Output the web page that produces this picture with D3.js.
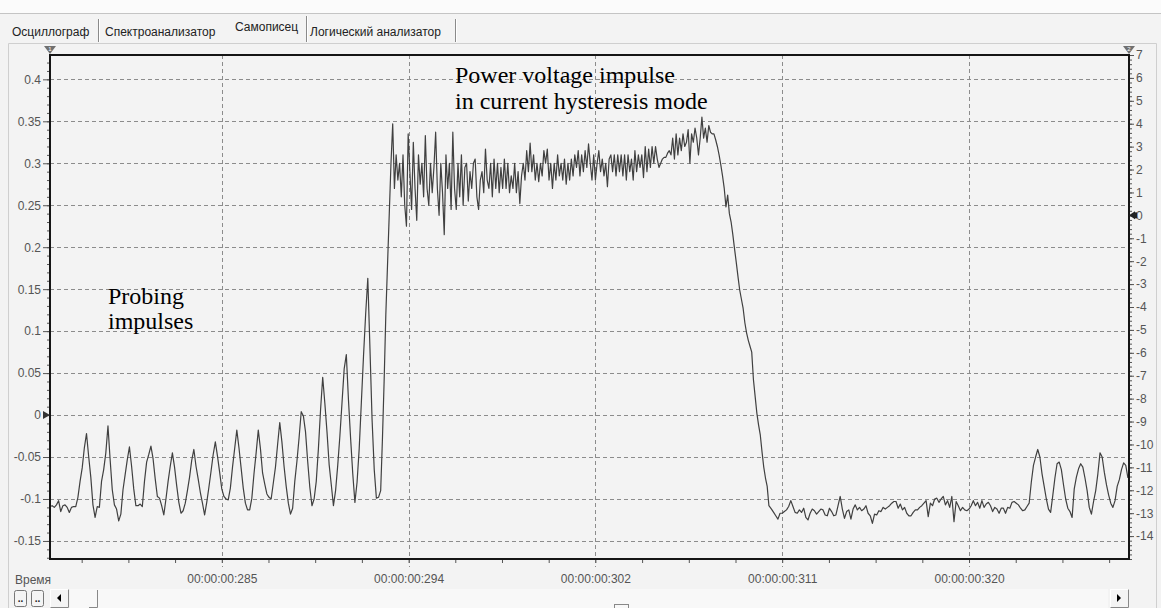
<!DOCTYPE html>
<meta charset="utf-8">
<head>
  <script src="https://cdnjs.cloudflare.com/ajax/libs/d3/7.8.5/d3.min.js"></script>
</head>
<style>
  body {
    margin: 0;
    background: #f3f3f3;
  }
  svg text {
    font-family: "Liberation Sans", Arial, sans-serif;
  }
  .tick line { stroke: #555; }
  .tick text { fill: #555; font-size: 12px; }
  .note { font-family: "Liberation Serif", "Times New Roman", serif !important; font-size: 24px; fill: #000; }
</style>
<body></body>
<script>
  var width = 1161, height = 608;
  // plot box (note: "top" is taken by window.top, so other names)
  var plotL = 50, plotR = 1129, plotT = 55, plotB = 559;

  // tabs of the recorder window
  var tabs = ["Осциллограф", "Спектроанализатор", "Самописец", "Логический анализатор"];
  var tabX = [12, 105, 235, 310];

  // axes
  var leftTicks = [-0.15, -0.1, -0.05, 0, 0.05, 0.1, 0.15, 0.2, 0.25, 0.3, 0.35, 0.4];
  var rightTicks = [-14, -13, -12, -11, -10, -9, -8, -7, -6, -5, -4, -3, -2, -1, 0, 1, 2, 3, 4, 5, 6, 7];
  var timeTicks = [285.2, 293.9, 302.6, 311.3, 320.0];
  var timeLabels = ["00:00:00:285", "00:00:00:294", "00:00:00:302", "00:00:00:311", "00:00:00:320"];

  // recorded voltage, ms / V, three sampled pieces
  var probeStart = 277.2, probeStep = 0.1;
  var probe = [
    -0.109, -0.108, -0.110, -0.107, -0.102, -0.115, -0.108, -0.107, -0.110, -0.116,
    -0.110, -0.109, -0.109, -0.098, -0.079, -0.063, -0.039, -0.022, -0.049, -0.074,
    -0.107, -0.122, -0.109, -0.110, -0.079, -0.065, -0.045, -0.013, -0.053, -0.089,
    -0.107, -0.112, -0.126, -0.118, -0.089, -0.071, -0.053, -0.038, -0.061, -0.088,
    -0.108, -0.108, -0.106, -0.109, -0.079, -0.056, -0.047, -0.037, -0.052, -0.076,
    -0.097, -0.099, -0.108, -0.119, -0.100, -0.079, -0.061, -0.045, -0.062, -0.084,
    -0.104, -0.117, -0.114, -0.105, -0.090, -0.074, -0.054, -0.041, -0.061, -0.076,
    -0.092, -0.105, -0.119, -0.104, -0.086, -0.067, -0.047, -0.032, -0.049, -0.068,
    -0.088, -0.097, -0.100, -0.101, -0.087, -0.062, -0.040, -0.018, -0.039, -0.063,
    -0.087, -0.105, -0.113, -0.113, -0.099, -0.070, -0.045, -0.018, -0.040, -0.069,
    -0.082, -0.094, -0.098, -0.100, -0.081, -0.062, -0.035, -0.009, -0.032, -0.061,
    -0.085, -0.105, -0.118, -0.111, -0.079, -0.055, -0.027, 0.004, -0.001, -0.020,
    -0.055, -0.086, -0.108, -0.100, -0.079, -0.040, 0.006, 0.045, 0.014, -0.020,
    -0.059, -0.083, -0.108, -0.090, -0.060, -0.025, 0.015, 0.055, 0.072, 0.018,
    -0.028, -0.070, -0.104, -0.080, -0.040, 0.015, 0.070, 0.120, 0.163, 0.080,
    -0.006, -0.065, -0.099, -0.098
  ];

  var pulseStart = 292.6, pulseStep = 0.08;
  var pulse = [
    -0.090, -0.030, 0.040, 0.120, 0.180, 0.240, 0.300, 0.347,
    0.27, 0.31, 0.28, 0.30, 0.26, 0.31, 0.25, 0.225,
    0.335, 0.29, 0.245, 0.325, 0.27, 0.232, 0.31, 0.275,
    0.30, 0.26, 0.333, 0.27, 0.25, 0.30, 0.265, 0.295,
    0.337, 0.27, 0.238, 0.30, 0.265, 0.215, 0.31, 0.27,
    0.30, 0.245, 0.337, 0.27, 0.245, 0.30, 0.26, 0.31,
    0.25, 0.295, 0.30, 0.255, 0.29, 0.27, 0.30, 0.305,
    0.26, 0.245, 0.28, 0.29,
    0.265, 0.317, 0.28, 0.27, 0.30, 0.26, 0.305, 0.27, 0.30, 0.265,
    0.295, 0.27, 0.305, 0.27, 0.30, 0.265, 0.285, 0.27, 0.30, 0.265,
    0.29, 0.252, 0.285, 0.30, 0.28, 0.315, 0.29, 0.324, 0.29, 0.31,
    0.28, 0.30, 0.278, 0.30, 0.285, 0.315, 0.30, 0.317, 0.28, 0.30,
    0.27, 0.30, 0.28, 0.31, 0.285, 0.30, 0.28, 0.305, 0.275, 0.30,
    0.28, 0.305, 0.285, 0.31, 0.295, 0.315, 0.285, 0.31, 0.29, 0.315,
    0.295, 0.323, 0.30, 0.28, 0.31, 0.28, 0.30, 0.315, 0.29, 0.305,
    0.285, 0.30, 0.272, 0.305, 0.31, 0.29, 0.31, 0.285, 0.31, 0.29,
    0.31, 0.285, 0.31, 0.28, 0.31, 0.29, 0.305, 0.28, 0.315, 0.29,
    0.31, 0.295, 0.31, 0.283, 0.32, 0.29, 0.317, 0.295, 0.32, 0.30,
    0.32, 0.305, 0.295, 0.30, 0.305, 0.307, 0.307, 0.312, 0.315, 0.31,
    0.33, 0.305, 0.335, 0.31, 0.33, 0.315, 0.335, 0.32, 0.325, 0.34,
    0.30, 0.335, 0.325, 0.342, 0.33, 0.31, 0.33, 0.355, 0.33, 0.342,
    0.325, 0.345, 0.337, 0.335, 0.335, 0.328, 0.32, 0.31, 0.298, 0.285,
    0.27, 0.248, 0.262, 0.240, 0.23, 0.215, 0.198, 0.182, 0.165, 0.149,
    0.138, 0.127, 0.11, 0.098, 0.089, 0.082, 0.075, 0.042, 0.022, 0.002,
    -0.012, -0.024, -0.044, -0.062, -0.075, -0.085, -0.108
  ];

  var tailStart = 310.8, tailStep = 0.1;
  var tail = [
    -0.112, -0.116, -0.120, -0.124, -0.117, -0.117, -0.115, -0.113, -0.109, -0.102,
    -0.109, -0.116, -0.117, -0.113, -0.116, -0.111, -0.122, -0.125, -0.117, -0.112,
    -0.114, -0.118, -0.115, -0.112, -0.113, -0.119, -0.120, -0.111, -0.115, -0.120,
    -0.119, -0.108, -0.097, -0.112, -0.123, -0.115, -0.113, -0.124, -0.112, -0.107,
    -0.113, -0.110, -0.114, -0.112, -0.108, -0.117, -0.120, -0.129, -0.118, -0.119,
    -0.114, -0.115, -0.110, -0.112, -0.110, -0.108, -0.105, -0.103, -0.103, -0.111,
    -0.106, -0.113, -0.110, -0.117, -0.120, -0.120, -0.116, -0.113, -0.113, -0.110,
    -0.108, -0.105, -0.102, -0.121, -0.105, -0.108, -0.100, -0.099, -0.104, -0.100,
    -0.097, -0.107, -0.102, -0.110, -0.097, -0.127, -0.103, -0.108, -0.114, -0.110,
    -0.113, -0.114, -0.112, -0.108, -0.102, -0.108, -0.104, -0.111, -0.102, -0.110,
    -0.106, -0.104, -0.108, -0.115, -0.110, -0.112, -0.117, -0.111, -0.111, -0.117,
    -0.110, -0.111, -0.104, -0.103, -0.105, -0.107, -0.111, -0.114, -0.113, -0.109,
    -0.105, -0.080, -0.060, -0.050, -0.041, -0.050, -0.070, -0.085, -0.100, -0.112,
    -0.116, -0.096, -0.075, -0.058, -0.056, -0.065, -0.083, -0.100, -0.111, -0.115,
    -0.122, -0.088, -0.074, -0.064, -0.058, -0.062, -0.075, -0.090, -0.110, -0.118,
    -0.103, -0.090, -0.070, -0.045, -0.050, -0.068, -0.083, -0.095, -0.105, -0.110,
    -0.102, -0.085, -0.077, -0.065, -0.057, -0.060, -0.075
  ];

  var points = [];
  probe.forEach(function(v, i) { points.push([probeStart + i * probeStep, v]); });
  pulse.forEach(function(v, i) { points.push([pulseStart + i * pulseStep, v]); });
  tail.forEach(function(v, i) { points.push([tailStart + i * tailStep, v]); });

  var x = d3.scaleLinear().domain([277.2, 327.45]).range([plotL, plotR]);
  var y = d3.scaleLinear().domain([-0.1715, 0.429]).range([plotB, plotT]);
  var y2 = d3.scaleLinear().domain([-15, 7]).range([plotB, plotT]);

  var svg = d3.select("body").append("svg")
      .attr("width", width)
      .attr("height", height);

  // window frame
  svg.append("rect").attr("width", width).attr("height", 13).attr("fill", "#fbfbfb");
  svg.append("line").attr("x1", 0).attr("x2", width).attr("y1", 13.5).attr("y2", 13.5).attr("stroke", "#c4c4c4");
  svg.append("path").attr("d", "M8.5,608 V43.5 H1156.5 V608").attr("fill", "none").attr("stroke", "#cfcfcf");

  // tabs
  svg.selectAll(".tab").data(tabs).enter().append("text")
      .attr("x", function(d, i) { return tabX[i]; })
      .attr("y", function(d, i) { return i == 2 ? 31 : 36; })
      .attr("font-size", "12px")
      .attr("fill", "#222")
      .text(function(d) { return d; });
  [98, 306, 455].forEach(function(sx) {
    svg.append("line").attr("x1", sx + 0.5).attr("x2", sx + 0.5).attr("y1", sx == 306 ? 16 : 19).attr("y2", 42)
        .attr("stroke", "#8a8a8a");
    svg.append("line").attr("x1", sx + 1.5).attr("x2", sx + 1.5).attr("y1", sx == 306 ? 16 : 19).attr("y2", 42)
        .attr("stroke", "#fff");
  });

  // grid
  svg.append("g").selectAll("line").data(leftTicks).enter().append("line")
      .attr("x1", plotL).attr("x2", plotR)
      .attr("y1", function(d) { return Math.round(y(d)) + 0.5; })
      .attr("y2", function(d) { return Math.round(y(d)) + 0.5; })
      .attr("stroke", "#8c8c8c").attr("stroke-dasharray", "4,3");
  svg.append("g").selectAll("line").data(timeTicks).enter().append("line")
      .attr("x1", function(d) { return Math.round(x(d)) + 0.5; })
      .attr("x2", function(d) { return Math.round(x(d)) + 0.5; })
      .attr("y1", plotT).attr("y2", plotB + 8)
      .attr("stroke", "#8c8c8c").attr("stroke-dasharray", "4,3");

  // left axis
  svg.append("g").attr("transform", "translate(" + plotL + ",0)")
      .call(d3.axisLeft(y).tickValues(d3.range(-17, 43).map(function(d) { return d / 100; })).tickSize(3).tickFormat(""))
      .call(function(g) { g.select(".domain").remove(); });
  svg.append("g").attr("transform", "translate(" + plotL + ",0)")
      .call(d3.axisLeft(y).tickValues(leftTicks).tickSize(7).tickPadding(2).tickFormat(function(d) { return String(d); }))
      .call(function(g) { g.select(".domain").remove(); });

  // right axis
  svg.append("g").attr("transform", "translate(" + plotR + ",0)")
      .call(d3.axisRight(y2).tickValues(d3.range(-75, 36).map(function(d) { return d / 5; })).tickSize(3).tickFormat(""))
      .call(function(g) { g.select(".domain").remove(); });
  svg.append("g").attr("transform", "translate(" + plotR + ",0)")
      .call(d3.axisRight(y2).tickValues(rightTicks).tickSize(5).tickPadding(2).tickFormat(function(d) { return String(d); }))
      .call(function(g) { g.select(".domain").remove(); });

  // time axis
  svg.append("g").attr("transform", "translate(0," + plotB + ")")
      .call(d3.axisBottom(x).tickValues(d3.range(278.675, 327.4, 2.175)).tickSize(4).tickFormat(""))
      .call(function(g) { g.select(".domain").remove(); });
  svg.append("g").attr("transform", "translate(0," + plotB + ")")
      .call(d3.axisBottom(x).tickValues(timeTicks).tickSize(0).tickPadding(15)
        .tickFormat(function(d, i) { return timeLabels[i]; }))
      .call(function(g) { g.select(".domain").remove(); });
  svg.append("text").attr("x", 15).attr("y", 584).attr("font-size", "12px").attr("fill", "#555").text("Время");

  // signal
  svg.append("clipPath").attr("id", "clip").append("rect")
      .attr("x", plotL).attr("y", plotT).attr("width", plotR - plotL).attr("height", plotB - plotT);
  svg.append("path")
      .datum(points)
      .attr("clip-path", "url(#clip)")
      .attr("fill", "none")
      .attr("stroke", "#404040")
      .attr("stroke-width", 1.2)
      .attr("stroke-linejoin", "round")
      .attr("d", d3.line().x(function(d) { return x(d[0]); }).y(function(d) { return y(d[1]); }));

  // plot frame
  svg.append("path")
      .attr("d", "M" + plotL + "," + plotT + " H" + plotR + " V" + plotB + " H" + plotL + " Z")
      .attr("fill", "none").attr("stroke", "#151515").attr("stroke-width", 2);

  // channel markers
  [[plotL, "1"], [plotR, "2"]].forEach(function(m) {
    svg.append("path").attr("d", "M" + (m[0] - 6) + ",46 H" + (m[0] + 6) + " L" + m[0] + ",54 Z").attr("fill", "#707070");
    svg.append("text").attr("x", m[0]).attr("y", 51).attr("text-anchor", "middle")
        .attr("font-size", "6px").attr("fill", "#fff").text(m[1]);
  });
  svg.append("path").attr("d", "M" + (plotL - 7) + "," + (y(0) - 4) + " L" + plotL + "," + y(0) + " L" + (plotL - 7) + "," + (y(0) + 4) + " Z")
      .attr("fill", "#333");
  svg.append("path").attr("d", "M" + (plotR + 6) + "," + (y2(0) - 4) + " L" + plotR + "," + y2(0) + " L" + (plotR + 6) + "," + (y2(0) + 4) + " Z")
      .attr("fill", "#222");
  svg.append("rect").attr("x", plotR + 5).attr("y", y2(0) - 3).attr("width", 3).attr("height", 6).attr("fill", "#222");

  // annotations
  svg.append("text").attr("class", "note").attr("x", 455).attr("y", 83).text("Power voltage impulse");
  svg.append("text").attr("class", "note").attr("x", 455).attr("y", 109).text("in current hysteresis mode");
  svg.append("text").attr("class", "note").attr("x", 108).attr("y", 304).text("Probing");
  svg.append("text").attr("class", "note").attr("x", 108).attr("y", 329).text("impulses");

  // scroll bar
  svg.append("rect").attr("x", 70).attr("y", 589).attr("width", 1038).attr("height", 19).attr("fill", "#f8f8f8");
  [[14, ".."], [31, ".."]].forEach(function(b) {
    svg.append("rect").attr("x", b[0] + 0.5).attr("y", 590.5).attr("width", 12).attr("height", 16).attr("rx", 2)
        .attr("fill", "#f4f4f4").attr("stroke", "#777");
    svg.append("text").attr("x", b[0] + 6.5).attr("y", 602).attr("text-anchor", "middle")
        .attr("font-size", "10px").attr("font-weight", "bold").attr("fill", "#222").text(b[1]);
  });
  [[50, -1], [1110, 1]].forEach(function(b) {
    svg.append("rect").attr("x", b[0] + 0.5).attr("y", 589.5).attr("width", 18).attr("height", 18)
        .attr("fill", "#f4f4f4").attr("stroke", "#fff");
    svg.append("path").attr("d", "M" + (b[0] + 18.5) + ",589.5 V607.5 H" + (b[0] + 0.5)).attr("fill", "none").attr("stroke", "#888");
    var cx = b[0] + 9;
    svg.append("path").attr("d", "M" + (cx - 2 * b[1]) + ",594 L" + (cx + 2 * b[1]) + ",598 L" + (cx - 2 * b[1]) + ",602 Z")
        .attr("fill", "#000");
  });
  svg.append("path").attr("d", "M89,607.5 H97.5 V590").attr("fill", "none").attr("stroke", "#888");
  svg.append("rect").attr("x", 614.5).attr("y", 604.5).attr("width", 14).attr("height", 6).attr("fill", "none").attr("stroke", "#888");
</script>
